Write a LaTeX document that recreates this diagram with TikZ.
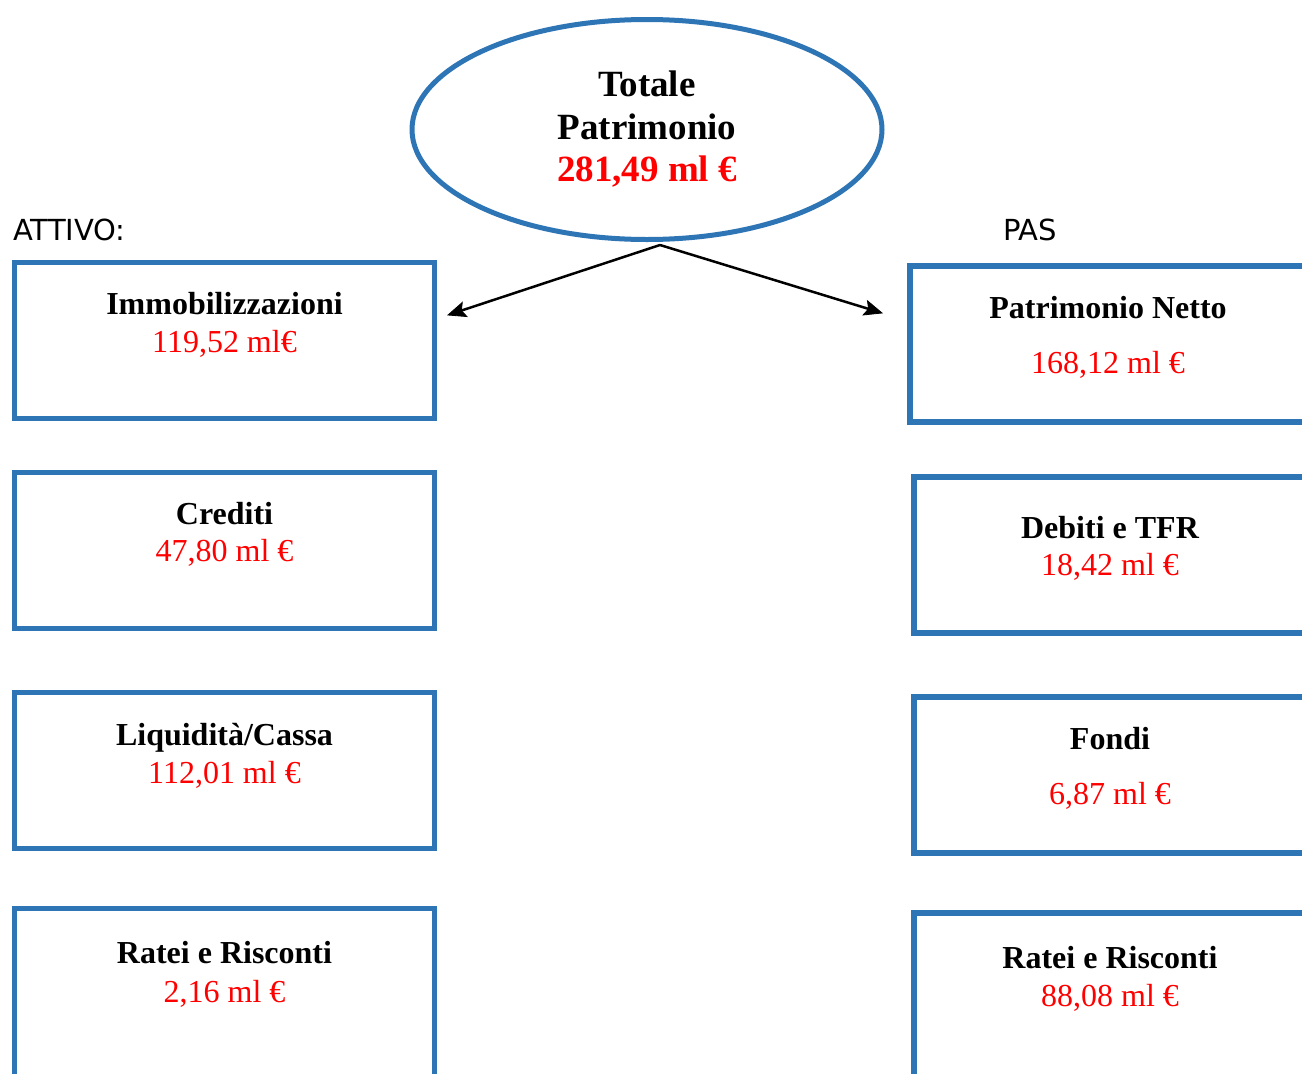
\documentclass[tikz,border=0pt]{standalone}
\usepackage{fontspec}
\setmainfont{Liberation Serif}
\newfontfamily\labfont{DejaVu Sans}
\usetikzlibrary{shapes.geometric,arrows.meta,calc}
\definecolor{boxblue}{RGB}{46,117,182}
\definecolor{valred}{RGB}{255,0,0}
\begin{document}
\begin{tikzpicture}[x=1pt,y=-1pt,
  lbox/.style={draw=boxblue,line width=5pt,minimum width=420pt,minimum height=156pt,inner sep=0pt},
  rbox/.style={draw=boxblue,line width=6pt,minimum height=156pt,inner sep=0pt},
  ttl/.style={anchor=base,inner sep=0pt,font=\fontsize{32}{38}\selectfont\bfseries},
  val/.style={anchor=base,inner sep=0pt,text=valred,font=\fontsize{32}{38}\selectfont},
  side/.style={anchor=west,inner sep=0pt,font=\labfont\fontsize{29}{33}\selectfont},
  conn/.style={line width=2.5pt,shorten >=12pt},
  head/.style={fill=black,draw=black,line width=0.8pt,line join=miter}]
\useasboundingbox (0,0) rectangle (1302,1074);
\clip (0,0) rectangle (1302,1074);
\fill[white] (0,0) rectangle (1302,1074);
% ellipse
\node[ellipse,draw=boxblue,line width=5pt,minimum width=470pt,minimum height=220pt,inner sep=0pt,
      align=center,font=\fontsize{37}{42.5}\selectfont\bfseries] (tot) at (647,129.5)
  {Totale\\Patrimonio\\\textcolor{valred}{281,49 ml €}};
% side labels
\node[side] (att) at (13,230) {ATTIVO:};
\node[side] (pas) at (1003,230) {PAS};
% left boxes
\node[lbox] (l1) at (224.5,340.5) {};
\node[lbox] (l2) at (224.5,550.5) {};
\node[lbox] (l3) at (224.5,770.5) {};
\node[lbox,minimum height=190pt] (l4) at (224.5,1003.5) {};
\node[ttl] (l1t) at (224.5,314) {Immobilizzazioni};
\node[val] (l1v) at (224.5,352) {119,52 ml€};
\node[ttl] (l2t) at (224.5,524) {Crediti};
\node[val] (l2v) at (224.5,561) {47,80 ml €};
\node[ttl] (l3t) at (224.5,745) {Liquidità/Cassa};
\node[val] (l3v) at (224.5,783) {112,01 ml €};
\node[ttl] (l4t) at (224.5,963) {Ratei e Risconti};
\node[val] (l4v) at (224.5,1002) {2,16 ml €};
% right boxes
\node[rbox,minimum width=396pt] (r1) at (1108,344) {};
\node[rbox,minimum width=392pt] (r2) at (1110,554.5) {};
\node[rbox,minimum width=392pt] (r3) at (1110,774.5) {};
\node[rbox,minimum width=392pt,minimum height=190pt] (r4) at (1110,1008) {};
\node[ttl] (r1t) at (1108,318) {Patrimonio Netto};
\node[val] (r1v) at (1108,373) {168,12 ml €};
\node[ttl] (r2t) at (1110,538) {Debiti e TFR};
\node[val] (r2v) at (1110,575) {18,42 ml €};
\node[ttl] (r3t) at (1110,749) {Fondi};
\node[val] (r3v) at (1110,804) {6,87 ml €};
\node[ttl] (r4t) at (1110,968) {Ratei e Risconti};
\node[val] (r4v) at (1110,1006) {88,08 ml €};
% connectors
\coordinate (src) at (660,245);
\coordinate (tipL) at (448,315);
\coordinate (tipR) at (882,313);
\draw[conn] (src) -- (tipL);
\draw[conn] (src) -- (tipR);
\fill[head] (tipL) -- ($(tipL)!19pt!23:(src)$) -- ($(tipL)!14pt!(src)$) -- ($(tipL)!19pt!-23:(src)$) -- cycle;
\fill[head] (tipR) -- ($(tipR)!19pt!23:(src)$) -- ($(tipR)!14pt!(src)$) -- ($(tipR)!19pt!-23:(src)$) -- cycle;
\end{tikzpicture}
\end{document}
